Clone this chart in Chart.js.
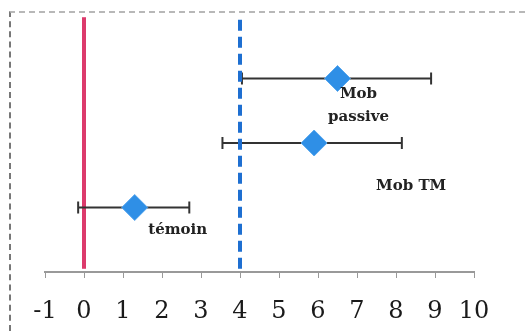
<!DOCTYPE html>
<html>
<head>
<meta charset="utf-8">
<script src="https://cdn.jsdelivr.net/npm/chart.js@4"></script>
<style>
  html, body { margin: 0; padding: 0; background: #fff; }
  #wrap { position: relative; width: 525px; height: 331px; }
  #frame { position: absolute; left: 9px; top: 11px; right: 0; bottom: 0;
    border-top: 2px dashed #b8b8b8; border-left: 2px dashed #777; }
</style>
</head>
<body>
<div id="wrap">
  <div id="frame"></div>
  <canvas id="chart" width="525" height="331"></canvas>
</div>
<script>
// groups, bottom to top
const groups = ["témoin", "Mob TM", "Mob passive"];
const rows = [1, 2, 3];
const means = [1.3, 5.9, 6.5];
const lows = [-0.15, 3.55, 4.05];
const highs = [2.7, 8.15, 8.9];
const xTicks = [-1, 0, 1, 2, 3, 4, 5, 6, 7, 8, 9, 10];
const refLines = [0, 4];

const datasets = [];

// error bars
groups.forEach((g, i) => {
  datasets.push({
    data: [{ x: lows[i], y: rows[i] }, { x: highs[i], y: rows[i] }],
    borderColor: "#333",
    borderWidth: 2,
    pointStyle: "line",
    rotation: 90,
    pointRadius: 6,
    pointBorderWidth: 2,
    pointBorderColor: "#333",
    showLine: true,
    order: 2,
  });
});

// reference lines
datasets.push({
  data: [{ x: refLines[0], y: 0.05 }, { x: refLines[0], y: 3.95 }],
  borderColor: "#dc3a6c",
  borderWidth: 4,
  pointRadius: 0,
  showLine: true,
  order: 3,
});
datasets.push({
  data: [{ x: refLines[1], y: 0.05 }, { x: refLines[1], y: 3.98 }],
  borderColor: "#1e6fd1",
  borderWidth: 4,
  borderDash: [11, 6],
  pointRadius: 0,
  showLine: true,
  order: 1,
});

// means
datasets.push({
  data: means.map((m, i) => ({ x: m, y: rows[i] })),
  pointStyle: "rectRot",
  pointRadius: 13,
  pointBackgroundColor: "#2f8fe6",
  pointBorderColor: "#5aa8ee",
  pointBorderWidth: 1,
  showLine: false,
  order: 0,
});

// group labels next to the points
const labelPlugin = {
  id: "groupLabels",
  afterDatasetsDraw(chart) {
    const ctx = chart.ctx;
    const xs = chart.scales.x;
    const ys = chart.scales.y;
    ctx.save();
    ctx.font = "bold 15px 'DejaVu Serif'";
    ctx.fillStyle = "#222";
    ctx.textAlign = "center";
    ctx.textBaseline = "middle";
    const px = (i) => xs.getPixelForValue(means[i]);
    const py = (i) => ys.getPixelForValue(rows[i]);
    ctx.fillText(groups[0], px(0) + 43, py(0) + 23);
    ctx.fillText(groups[1], px(1) + 97, py(1) + 43);
    ctx.fillText("Mob", px(2) + 21, py(2) + 16);
    ctx.fillText("passive", px(2) + 21, py(2) + 39);
    ctx.restore();
  },
};

new Chart(document.getElementById("chart"), {
  type: "scatter",
  data: { datasets },
  options: {
    responsive: false,
    animation: false,
    layout: { padding: { left: 45, right: 51, top: 13, bottom: 0 } },
    plugins: { legend: { display: false }, tooltip: { enabled: false } },
    scales: {
      x: {
        type: "linear",
        min: xTicks[0],
        max: xTicks[xTicks.length - 1],
        afterBuildTicks: (scale) => {
          scale.ticks = xTicks.map((v) => ({ value: v }));
        },
        afterFit: (scale) => {
          scale.height = 59;
        },
        border: { display: true, color: "#999", width: 2 },
        grid: { drawOnChartArea: false, drawTicks: true, tickLength: 6, color: "#999" },
        ticks: {
          padding: 19,
          color: "#1a1a1a",
          font: { family: "'DejaVu Serif'", size: 24 },
          maxRotation: 0,
        },
      },
      y: { display: false, min: 0, max: 4 },
    },
  },
  plugins: [labelPlugin],
});
</script>
</body>
</html>
